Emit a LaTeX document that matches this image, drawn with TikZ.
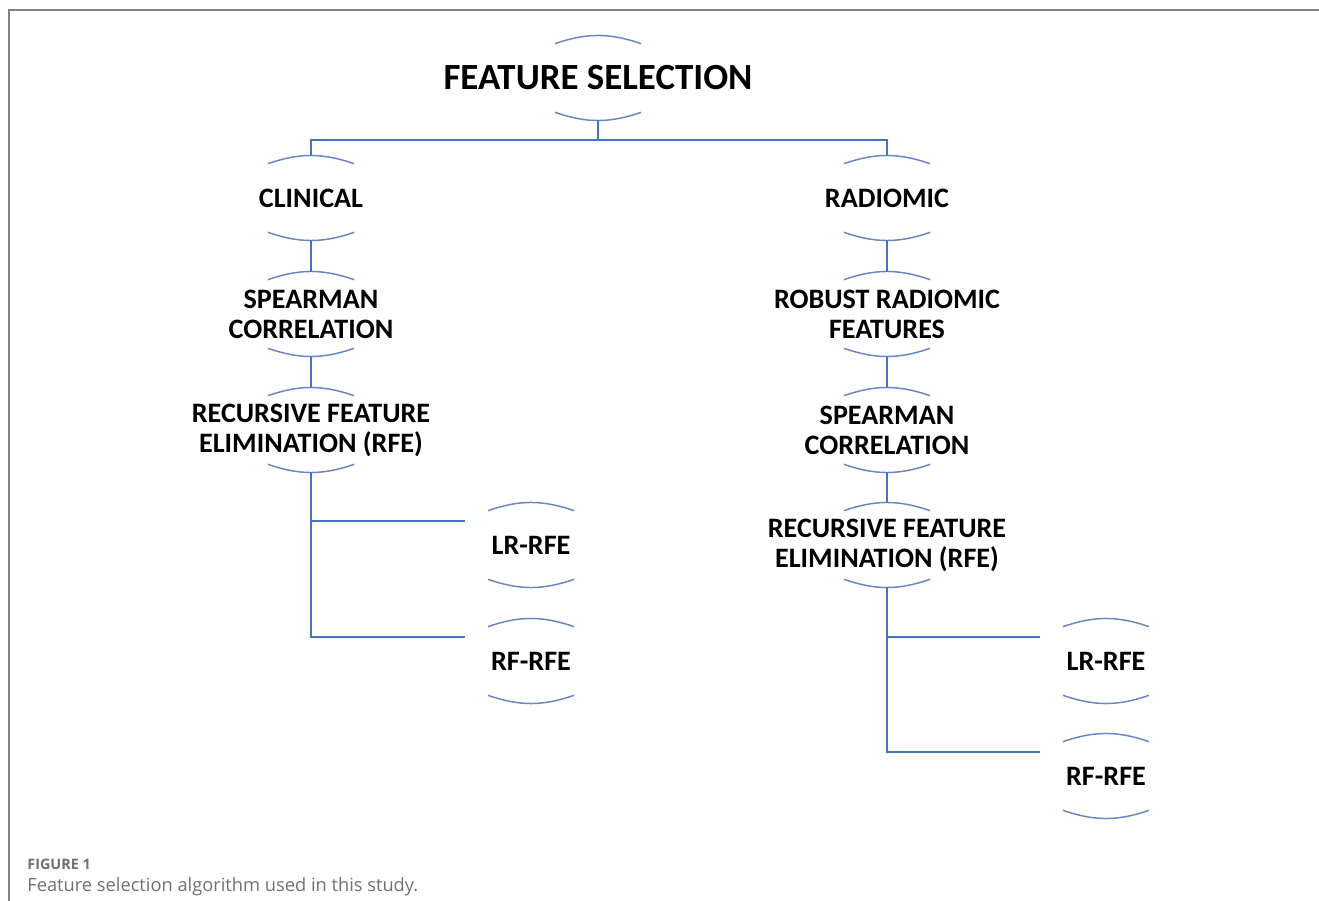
\documentclass[tikz,border=0pt]{standalone}
\usepackage{fontspec}
\setmainfont{Carlito}
\newfontfamily\capfont{Open Sans}
\definecolor{lnblue}{RGB}{68,114,196}
\definecolor{arcblue}{RGB}{105,135,198}
\definecolor{capgray}{RGB}{112,112,112}
\definecolor{framegray}{RGB}{130,130,130}

% two bracket arcs above and below a node
\newcommand{\bracketarcs}[1]{%
  \draw[arc] ([shift={(-0.86cm,-0.15cm)}]#1.north) to[bend left=19] ([shift={(0.86cm,-0.15cm)}]#1.north);
  \draw[arc] ([shift={(-0.86cm,0.15cm)}]#1.south) to[bend right=19] ([shift={(0.86cm,0.15cm)}]#1.south);%
}

\begin{document}
\begin{tikzpicture}[x=0.02cm, y=-0.02cm,
    box/.style={font=\bfseries\fontsize{16}{17}\selectfont, align=center, minimum height=1.66cm, inner sep=0pt},
    link/.style={draw=lnblue, line width=0.75pt},
    arc/.style={draw=arcblue, line width=0.85pt}]
        \useasboundingbox (0,0) rectangle (1319,901);
        \draw[framegray, line width=0.9pt] (9,901) -- (9,10) -- (1319,10);

        % Top node
        \node[box, font=\bfseries\fontsize{21}{24}\selectfont] (fs) at (598,78) {FEATURE SELECTION};

        % Clinical branch
        \node[box] (clin) at (311,198) {CLINICAL};
        \node[box] (spc) at (311,314) {SPEARMAN\\CORRELATION};
        \node[box] (rfec) at (311,430) {RECURSIVE FEATURE\\ELIMINATION (RFE)};
        \node[box] (lrc) at (531,545) {LR-RFE};
        \node[box] (rfc) at (531,661) {RF-RFE};

        % Radiomic branch
        \node[box] (radi) at (887,198) {RADIOMIC};
        \node[box] (rob) at (887,314) {ROBUST RADIOMIC\\FEATURES};
        \node[box] (spr) at (887,430) {SPEARMAN\\CORRELATION};
        \node[box] (rfer) at (887,545) {RECURSIVE FEATURE\\ELIMINATION (RFE)};
        \node[box] (lrr) at (1106,661) {LR-RFE};
        \node[box] (rfr) at (1106,776) {RF-RFE};

        \foreach \n in {fs,clin,spc,rfec,lrc,rfc,radi,rob,spr,rfer,lrr,rfr}
            \bracketarcs{\n};

        % Connectors
        \coordinate (fsj) at (598,140);
        \coordinate (lrcend) at ([shift={(-66,-24)}]lrc.center);
        \coordinate (rfcend) at ([shift={(-66,-24)}]rfc.center);
        \coordinate (lrrend) at ([shift={(-66,-24)}]lrr.center);
        \coordinate (rfrend) at ([shift={(-66,-24)}]rfr.center);
        \draw[link] (fs.south) -- (fsj);
        \draw[link] (clin.north) |- (fsj) -| (radi.north);
        \draw[link] (clin.south) -- (spc.north);
        \draw[link] (spc.south) -- (rfec.north);
        \draw[link] (rfec.south) |- (lrcend);
        \draw[link] (rfec.south) |- (rfcend);
        \draw[link] (radi.south) -- (rob.north);
        \draw[link] (rob.south) -- (spr.north);
        \draw[link] (spr.south) -- (rfer.north);
        \draw[link] (rfer.south) |- (lrrend);
        \draw[link] (rfer.south) |- (rfrend);

        % Caption
        \node[anchor=base west, inner sep=0pt, text=capgray, font=\capfont\bfseries\fontsize{8.2}{10}\selectfont] (fig) at (27,869) {FIGURE 1};
        \node[anchor=base west, inner sep=0pt, text=capgray, font=\capfont\fontsize{10.4}{12}\selectfont] (cap) at (27,891) {Feature selection algorithm used in this study.};
\end{tikzpicture}
\end{document}
